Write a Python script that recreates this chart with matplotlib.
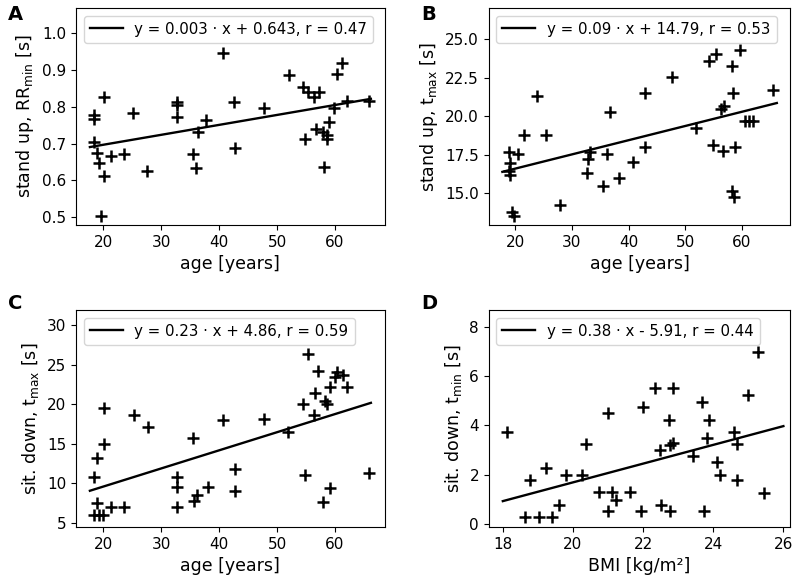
import numpy as np
import matplotlib
matplotlib.use("Agg")
import matplotlib.pyplot as plt

# panel A: age vs stand up RRmin
age_a = [18.4, 18.4, 18.4, 18.9, 19.2, 19.6, 20.2, 20.2, 21.3, 23.6, 25.2,
         27.6, 32.7, 32.8, 32.7, 35.5, 36.0, 36.4, 37.8, 40.6, 42.6, 42.7,
         47.7, 52.0, 54.5, 54.8, 55.4, 56.3, 56.7, 57.3, 58.0, 58.1, 58.6,
         58.7, 59.0, 59.8, 60.3, 61.2, 62.0, 65.8]
rr_a = [0.778, 0.766, 0.705, 0.674, 0.647, 0.503, 0.828, 0.612, 0.667, 0.672,
        0.783, 0.627, 0.805, 0.812, 0.772, 0.672, 0.635, 0.733, 0.764, 0.946,
        0.814, 0.687, 0.796, 0.886, 0.855, 0.712, 0.839, 0.826, 0.739, 0.839,
        0.733, 0.636, 0.724, 0.712, 0.760, 0.796, 0.889, 0.918, 0.817, 0.817]

# panel B: age vs stand up tmax
age_b = [18.9, 20.4, 19.1, 18.9, 19.0, 19.4, 19.7, 21.5, 23.8, 25.4, 27.9,
         32.7, 32.8, 33.1, 35.5, 36.2, 36.7, 38.3, 40.7, 42.9, 42.9, 47.7,
         52.0, 54.3, 55.4, 59.7, 58.3, 58.5, 65.6, 56.9, 56.3, 60.6, 61.3,
         62.0, 54.9, 56.7, 58.8, 58.3, 58.7]
tmax_b = [17.70, 17.55, 16.99, 16.47, 16.19, 13.81, 13.53, 18.79, 21.28, 18.79,
          14.24, 16.30, 17.20, 17.70, 15.48, 17.55, 20.24, 16.00, 17.00, 21.50,
          18.03, 22.53, 19.26, 23.55, 24.05, 24.26, 23.27, 21.53, 21.70, 20.68,
          20.45, 19.71, 19.71, 19.71, 18.14, 17.77, 17.99, 15.17, 14.74]

# panel C: age vs sit down tmax
age_c = [18.4, 19.0, 20.2, 20.2, 19.0, 21.3, 23.5, 18.4, 19.9, 19.3, 25.3,
         27.8, 32.7, 32.8, 32.7, 35.5, 35.7, 36.1, 38.1, 40.6, 42.7, 42.7,
         47.7, 51.9, 55.4, 57.1, 60.0, 60.3, 61.3, 59.2, 62.1, 56.6, 58.3,
         58.6, 54.4, 56.4, 54.8, 59.2, 58.0, 65.8]
tmax_c = [10.8, 13.2, 15.05, 19.5, 7.5, 7.0, 7.0, 6.0, 6.0, 6.0, 18.6,
          17.2, 9.6, 10.8, 7.05, 15.8, 7.8, 8.5, 9.5, 18.0, 11.8, 9.1,
          18.2, 16.5, 26.4, 24.2, 23.4, 24.1, 23.7, 22.2, 22.2, 21.4, 20.4,
          20.1, 20.0, 18.6, 11.05, 9.4, 7.7, 11.3]

# panel D: BMI vs sit down tmin
bmi_d = [18.11, 18.78, 18.62, 19.03, 19.41, 19.22, 19.60, 19.81, 20.27, 20.38,
         21.00, 21.00, 20.74, 21.12, 21.24, 21.62, 21.95, 22.00, 22.33, 22.86,
         22.48, 22.50, 22.74, 22.76, 22.78, 22.86, 23.43, 23.67, 23.89, 23.81,
         23.73, 24.10, 24.19, 24.59, 24.69, 24.69, 25.00, 25.29, 25.45]
tmin_d = [3.75, 1.77, 0.27, 0.27, 0.27, 2.27, 0.78, 2.00, 2.00, 3.25,
          4.52, 0.51, 1.28, 1.28, 0.98, 1.28, 0.51, 4.76, 5.50, 5.50,
          3.00, 0.78, 4.22, 0.51, 3.21, 3.28, 2.76, 4.96, 4.22, 3.48,
          0.51, 2.53, 2.00, 3.75, 3.24, 1.77, 5.23, 6.99, 1.25]

# regression lines (slope, intercept) as drawn, and legend texts
fit_a = (0.0027, 0.643)
fit_b = (0.092, 14.76)
fit_c = (0.229, 5.03)
fit_d = (0.38, -5.91)
leg_a = "y = 0.003 · x + 0.643, r = 0.47"
leg_b = "y = 0.09 · x + 14.79, r = 0.53"
leg_c = "y = 0.23 · x + 4.86, r = 0.59"
leg_d = "y = 0.38 · x - 5.91, r = 0.44"

fig = plt.figure(figsize=(8, 5.83), dpi=100)

panels = [
    # x, y, fit, legend, line range, rect, xlim, ylim, yticks, ylabel, xlabel, letter
    (age_a, rr_a, fit_a, leg_a, (17.7, 66.2), [0.095, 0.614, 0.386, 0.372],
     (15.3, 68.6), (0.479, 1.068), [0.5, 0.6, 0.7, 0.8, 0.9, 1.0],
     "stand up, RR$_{\\mathrm{min}}$ [s]", "age [years]", "A"),
    (age_b, tmax_b, fit_b, leg_b, (17.7, 66.2), [0.611, 0.614, 0.377, 0.372],
     (15.3, 68.6), (12.94, 27.0), [15.0, 17.5, 20.0, 22.5, 25.0],
     "stand up, t$_{\\mathrm{max}}$ [s]", "age [years]", "B"),
    (age_c, tmax_c, fit_c, leg_c, (17.7, 66.2), [0.095, 0.096, 0.386, 0.372],
     (15.3, 68.6), (4.5, 31.9), [5, 10, 15, 20, 25, 30],
     "sit. down, t$_{\\mathrm{max}}$ [s]", "age [years]", "C"),
    (bmi_d, tmin_d, fit_d, leg_d, (18.0, 26.0), [0.611, 0.096, 0.377, 0.372],
     (17.6, 26.2), (-0.12, 8.67), [0, 2, 4, 6, 8],
     "sit. down, t$_{\\mathrm{min}}$ [s]", "BMI [kg/m²]", "D"),
]

for x, y, fit, leg, lr, rect, xl, yl, yt, ylab, xlab, letter in panels:
    ax = fig.add_axes(rect)
    ax.plot(x, y, "+", color="black", ms=9, mew=1.8, linestyle="none")
    xs = np.array(lr)
    ax.plot(xs, fit[0] * xs + fit[1], color="black", lw=1.7, label=leg)
    ax.set_xlim(*xl)
    ax.set_ylim(*yl)
    ax.set_yticks(yt)
    if letter == "B":
        ax.set_yticklabels(["%.1f" % v for v in yt])
    ax.tick_params(labelsize=11)
    ax.set_xlabel(xlab, fontsize=12.5)
    ax.set_ylabel(ylab, fontsize=12.5)
    ax.legend(loc="upper left", fontsize=10.8, handlelength=2.2)
    top = rect[1] + rect[3]
    off = 0.005 if top > 0.9 else 0.027
    fig.text(rect[0] - 0.085, top + off, letter,
             fontsize=14, fontweight="bold", va="top")

fig.savefig("out.png", dpi=100)
